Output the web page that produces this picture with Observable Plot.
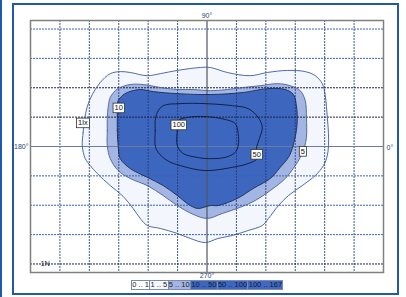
<!DOCTYPE html>
<html><head><meta charset="utf-8">
<script src="https://cdn.jsdelivr.net/npm/d3@7"></script>
<script src="https://cdn.jsdelivr.net/npm/@observablehq/plot@0.6"></script>
<style>
body{margin:0;background:#fff;font-family:"Liberation Sans",Arial,sans-serif;}
#wrap{position:relative;width:406px;height:297px;overflow:hidden;}
#wrap svg{position:absolute;left:0;top:0;}
#frame{position:absolute;left:12px;top:3px;width:383px;height:288px;border:2px solid #2059a8;}
#strip{position:absolute;left:0;top:0;width:2px;height:297px;background:#2059a8;}
#legend{position:absolute;left:131px;top:280px;display:flex;border:1px solid #7d8aa8;}
#legend span{display:block;height:8px;line-height:8px;font-size:7.5px;padding:0 0.3px;border-left:1px solid #7d8aa8;white-space:nowrap;}
#legend span:first-child{border-left:none;}
</style></head>
<body><div id="wrap"><div id="strip"></div><div id="frame"></div><div id="legend"></div></div>
<script>
// Isolux contours (x, y in grid units from the centre)
const contour1 = [[-4.24,0.03],[-4.21,0.48],[-4.17,0.88],[-4.07,1.36],[-3.90,1.77],[-3.63,2.18],[-3.29,2.48],[-2.95,2.55],[-2.61,2.52],[-2.03,2.41],[-1.59,2.48],[-1.01,2.59],[-0.23,2.69],[0.11,2.69],[0.69,2.52],[1.47,2.41],[2.05,2.52],[2.73,2.59],[3.34,2.55],[3.68,2.41],[3.92,2.14],[4.02,1.73],[4.09,0.99],[4.13,0.44],[4.13,0.03],[4.09,-0.31],[3.96,-0.65],[3.68,-0.99],[3.24,-1.33],[2.77,-1.67],[2.43,-2.01],[2.09,-2.45],[1.88,-2.69],[1.40,-2.86],[0.86,-3.03],[0.38,-3.13],[-0.06,-3.27],[-0.57,-3.13],[-1.01,-2.96],[-1.59,-2.79],[-2.03,-2.69],[-2.27,-2.45],[-2.51,-2.11],[-2.85,-1.70],[-3.29,-1.33],[-3.73,-0.92],[-3.97,-0.65],[-4.14,-0.41]];
const contour5 = [[-3.39,0.03],[-3.39,0.54],[-3.39,0.99],[-3.36,1.33],[-3.29,1.67],[-3.12,1.90],[-2.95,2.01],[-2.61,2.11],[-2.17,2.11],[-1.59,2.01],[-1.01,1.94],[-0.47,1.94],[0.11,1.90],[0.69,1.94],[1.24,2.01],[1.81,2.07],[2.39,2.14],[2.83,2.07],[3.17,1.90],[3.34,1.56],[3.38,0.99],[3.38,0.31],[3.31,-0.03],[3.17,-0.37],[3.00,-0.65],[2.66,-1.09],[2.15,-1.50],[1.64,-1.84],[1.13,-2.07],[0.52,-2.28],[0.01,-2.45],[-0.47,-2.31],[-1.01,-2.01],[-1.49,-1.67],[-2.03,-1.33],[-2.61,-1.09],[-3.02,-0.82],[-3.29,-0.41]];
const contour10 = [[-3.02,0.03],[-3.05,0.54],[-3.05,0.99],[-3.05,1.33],[-3.02,1.56],[-2.88,1.73],[-2.71,1.84],[-2.27,1.94],[-1.83,1.87],[-1.01,1.80],[0.11,1.77],[1.24,1.84],[2.05,1.97],[2.66,1.94],[2.94,1.77],[3.04,1.39],[3.07,0.99],[3.04,0.54],[2.97,0.20],[2.90,-0.07],[2.77,-0.37],[2.49,-0.71],[2.15,-1.09],[1.57,-1.43],[1.03,-1.77],[0.38,-2.01],[0.11,-2.01],[-0.30,-2.11],[-0.57,-2.01],[-1.01,-1.67],[-1.49,-1.33],[-2.03,-1.05],[-2.61,-0.75],[-2.95,-0.41]];
const contour50 = [[-1.76,0.03],[-1.76,0.54],[-1.76,0.88],[-1.69,1.16],[-1.49,1.39],[-0.91,1.46],[-0.06,1.46],[0.86,1.39],[1.40,1.29],[1.74,0.99],[1.88,0.65],[1.78,0.27],[1.68,-0.07],[1.71,-0.41],[1.40,-0.58],[0.86,-0.71],[-0.06,-0.82],[-0.91,-0.65],[-1.35,-0.48],[-1.66,-0.20]];
const contour100 = [[-1.01,0.03],[-1.01,0.54],[-0.98,0.88],[-0.67,0.99],[-0.06,1.02],[0.62,0.92],[0.96,0.78],[1.06,0.44],[1.06,0.03],[0.96,-0.20],[0.62,-0.37],[-0.06,-0.41],[-0.33,-0.37],[-0.81,-0.24]];

const contourLabels = [
  {text:"1lx", x:-4.22, y:0.80},
  {text:"10",  x:-3.00, y:1.31},
  {text:"100", x:-0.96, y:0.73},
  {text:"50",  x:1.69,  y:-0.27},
  {text:"5",   x:3.26,  y:-0.17}
];
const gridX = [-5,-4,-3,-2,-1,1,2,3,4,5];
const gridYBlue = [-3,-2,-1,3,4];
const gridYDark = [-4,1,2];
const legendLabels = ["0 .. 1","1 .. 5","5 .. 10","10 .. 50","50 .. 100","100 .. 167"];
const legendColors = ["#ffffff","#f3f6fd","#a3b6e3","#3d66be","#3d66be","#4169c1"];

const px = d => d[0], py = d => d[1];
const fillC = ["#f3f6fd","#a3b6e3","#3d66be"];

const chart = Plot.plot({
  width: 406, height: 297,
  marginLeft: 30, marginRight: 23, marginTop: 20, marginBottom: 25,
  x: {domain: [-6, 6], axis: null},
  y: {domain: [-4.29, 4.29], axis: null},
  style: {fontFamily: "Liberation Sans, Arial, sans-serif", fontSize: "8px", background: "transparent"},
  marks: [
    Plot.line(contour1, {x: px, y: py, curve: "catmull-rom-closed", fill: fillC[0], stroke: "none"}),
    Plot.line(contour5, {x: px, y: py, curve: "catmull-rom-closed", fill: fillC[1], stroke: "none"}),
    Plot.line(contour10, {x: px, y: py, curve: "catmull-rom-closed", fill: fillC[2], stroke: "none"}),
    Plot.ruleX(gridX, {stroke: "#233a78", strokeWidth: 1, strokeDasharray: "2,1", strokeOpacity: 0.85}),
    Plot.ruleY(gridYBlue, {stroke: "#3a62b8", strokeWidth: 1, strokeDasharray: "2,1"}),
    Plot.ruleY(gridYDark, {stroke: "#1c2440", strokeWidth: 1, strokeDasharray: "2,1"}),
    Plot.ruleY([0], {stroke: "#6c7ca4", strokeWidth: 1.2}),
    Plot.ruleX([0], {stroke: "#505560", strokeWidth: 1.2}),
    Plot.line(contour1, {x: px, y: py, curve: "catmull-rom-closed", stroke: "#3b5a9c", strokeWidth: 0.9}),
    Plot.line(contour5, {x: px, y: py, curve: "catmull-rom-closed", stroke: "#4a5f95", strokeWidth: 0.9}),
    Plot.line(contour10, {x: px, y: py, curve: "catmull-rom-closed", stroke: "#1b2a55", strokeWidth: 0.9}),
    Plot.line(contour50, {x: px, y: py, curve: "catmull-rom-closed", stroke: "#0e1836", strokeWidth: 0.9}),
    Plot.line(contour100, {x: px, y: py, curve: "catmull-rom-closed", stroke: "#0e1836", strokeWidth: 0.9}),
    Plot.frame({stroke: "#808080", strokeWidth: 1.5}),
    Plot.text(contourLabels, {x: "x", y: "y", text: "text", fill: "#111", fontSize: 7.5}),
    Plot.text(["1N"], {x: -5.5, y: -4, text: d => d, fill: "#1a2240", fontSize: 7.5}),
    Plot.text(["90°"], {frameAnchor: "top", lineAnchor: "bottom", dy: -3, fill: "#2c3f78", fontSize: 7}),
    Plot.text(["270°"], {frameAnchor: "bottom", lineAnchor: "top", dy: 1, fill: "#2c3f78", fontSize: 7}),
    Plot.text(["180°"], {frameAnchor: "left", dx: -2, textAnchor: "end", fill: "#2c3f78", fontSize: 7}),
    Plot.text(["0°"], {frameAnchor: "right", dx: 3, textAnchor: "start", fill: "#2c3f78", fontSize: 7, dy: 1})
  ]
});
const wrap = document.getElementById("wrap");
wrap.insertBefore(chart, document.getElementById("frame"));

const labelSet = new Set(contourLabels.map(d => d.text));
Array.from(chart.querySelectorAll("text")).forEach(function(t) {
  if (!labelSet.has(t.textContent)) return;
  const b = t.getBBox();
  const r = document.createElementNS("http://www.w3.org/2000/svg", "rect");
  r.setAttribute("x", b.x - 1.5);
  r.setAttribute("y", b.y - 0.3);
  r.setAttribute("width", b.width + 3);
  r.setAttribute("height", b.height + 0.6);
  r.setAttribute("fill", "#fff");
  r.setAttribute("stroke", "#333");
  r.setAttribute("stroke-width", "0.8");
  const tr = t.getAttribute("transform");
  if (tr) r.setAttribute("transform", tr);
  t.parentNode.insertBefore(r, t);
});

const legend = document.getElementById("legend");
legendLabels.forEach((l, i) => {
  const s = document.createElement("span");
  s.textContent = l;
  s.style.background = legendColors[i];
  s.style.color = i >= 3 ? "#0f1b45" : "#222";
  legend.appendChild(s);
});
</script></body></html>
